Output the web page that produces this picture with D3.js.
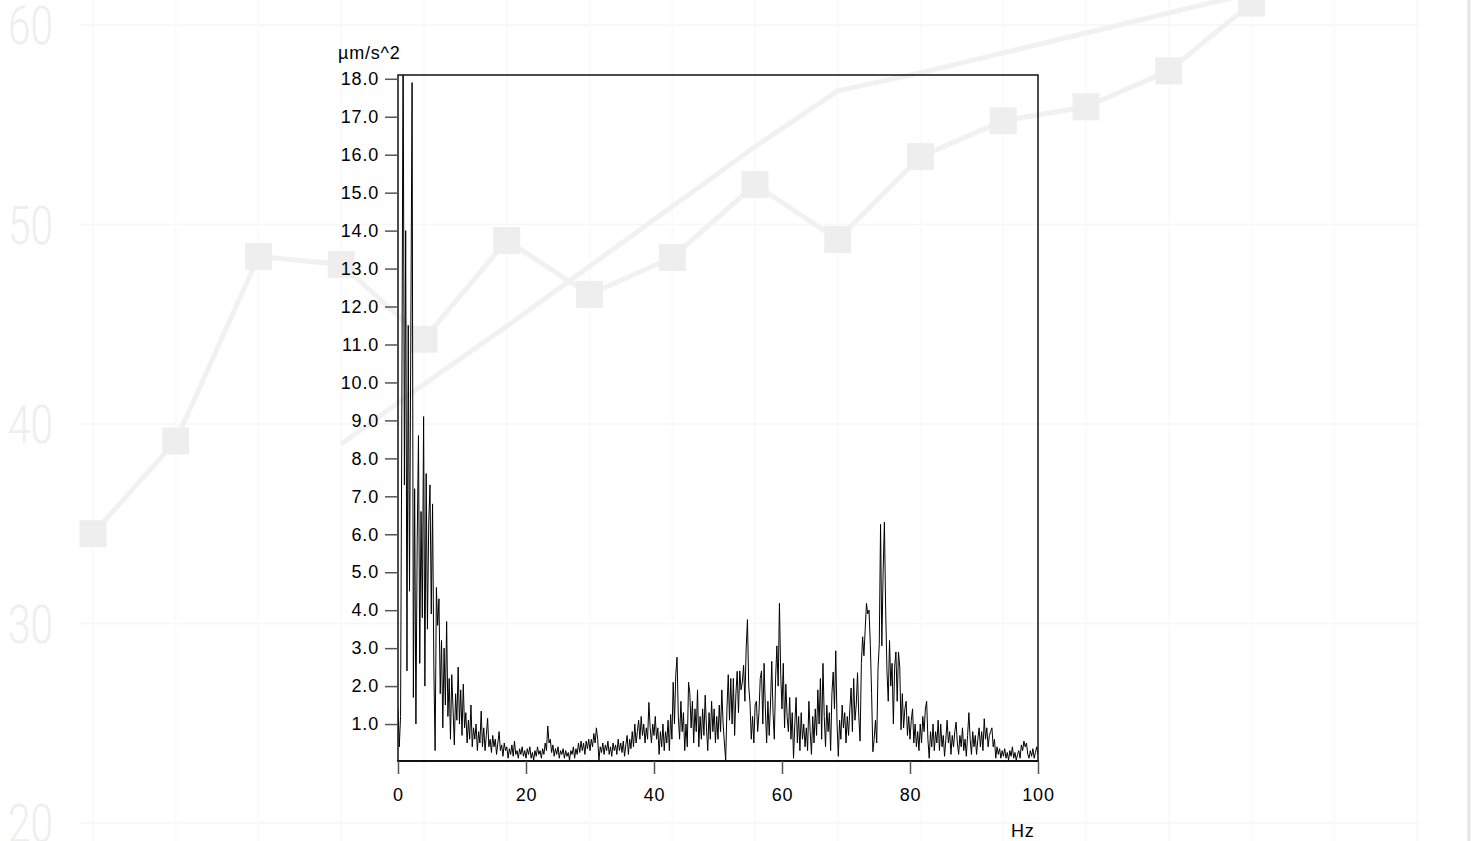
<!DOCTYPE html>
<html>
<head>
<meta charset="utf-8">
<script src="https://cdn.jsdelivr.net/npm/d3@7.9.0/dist/d3.min.js"></script>
<style>
  body { margin: 0; background: #fff; }
  svg { display: block; font-family: "Liberation Sans", Arial, sans-serif; }
</style>
</head>
<body>
<div id="chart"></div>
<script>
const width = 1475;
const height = 841;

// faded line chart sitting behind the spectrum
const bgMarkers = [34.5, 39.15, 48.4, 48.0, 44.25, 49.2, 46.5, 48.35, 52.0, 49.25, 53.4, 55.2, 55.9, 57.7, 61.1];
const bgTrend = [null, null, null, 39.0, 42.0, 44.9, 47.9, 50.9, 53.9, 56.7, 57.6, 58.6, 59.6, 60.6, 61.6];
const bgTicks = [20, 30, 40, 50, 60];

// spectrum: one value every 0.2 Hz, 0 .. 100 Hz
const freqStep = 0.2;
const amplitude = [
  1.4, 0.4, 1.2, 9.2, 19.5, 7.3, 14.0, 2.4, 11.5, 4.5, 11.2, 17.9, 1.7, 7.2, 1.0, 5.8, 8.6, 2.6, 6.6, 3.8, 9.1, 2.0, 7.6, 3.5, 6.3,
  7.3, 3.9, 6.8, 2.5, 0.3, 4.6, 3.6, 4.3, 1.8, 3.2, 0.9, 3.0, 1.5, 3.7, 1.2, 2.2, 0.6, 2.3, 1.4, 0.45, 1.8, 1.1, 2.5, 1.0, 1.9,
  0.7, 2.05, 0.9, 1.3, 0.5, 1.1, 0.6, 1.5, 0.4, 0.9, 0.6, 1.0, 0.3, 0.8, 0.5, 1.34, 0.4, 0.9, 0.3, 0.7, 1.15, 0.4, 0.6, 0.25, 0.7,
  0.4, 0.6, 0.2, 0.5, 0.8, 0.3, 0.45, 0.15, 0.5, 0.3, 0.4, 0.1, 0.35, 0.2, 0.45, 0.15, 0.55, 0.2, 0.3, 0.1, 0.35, 0.2, 0.4, 0.15, 0.3,
  0.1, 0.35, 0.2, 0.4, 0.1, 0.25, 0.05, 0.3, 0.15, 0.4, 0.2, 0.3, 0.1, 0.35, 0.2, 0.5, 0.3, 0.95, 0.5, 0.6, 0.25, 0.45, 0.15, 0.35, 0.2,
  0.4, 0.1, 0.3, 0.2, 0.35, 0.1, 0.3, 0.15, 0.25, 0.05, 0.3, 0.2, 0.4, 0.1, 0.35, 0.2, 0.5, 0.25, 0.55, 0.3, 0.5, 0.2, 0.55, 0.35, 0.6,
  0.3, 0.6, 0.4, 0.75, 0.5, 0.9, 0.6, 0.05, 0.4, 0.25, 0.5, 0.2, 0.45, 0.3, 0.55, 0.2, 0.4, 0.15, 0.5, 0.3, 0.45, 0.2, 0.6, 0.3, 0.5,
  0.25, 0.55, 0.15, 0.45, 0.7, 0.2, 0.6, 0.35, 0.8, 0.4, 1.0, 0.5, 0.8, 1.1, 0.6, 1.2, 0.7, 1.0, 0.5, 0.9, 0.6, 1.57, 0.9, 0.5, 1.0,
  0.7, 1.2, 0.6, 0.9, 0.2, 0.8, 0.4, 1.0, 0.3, 0.8, 0.5, 1.1, 0.3, 1.25, 0.6, 2.1, 1.0, 2.3, 2.76, 1.2, 0.6, 1.6, 0.8, 1.3, 0.3,
  1.0, 0.4, 2.1, 1.8, 0.9, 1.6, 0.5, 1.4, 0.8, 1.9, 0.4, 1.2, 0.6, 1.4, 0.7, 1.76, 0.9, 0.3, 1.3, 0.6, 1.6, 0.8, 1.4, 0.5, 1.2,
  0.6, 1.5, 0.8, 1.9, 1.0, 0.5, 0.05, 1.4, 2.3, 1.1, 2.2, 1.0, 2.2, 0.7, 1.8, 2.39, 1.3, 2.4, 1.9, 2.1, 2.55, 1.6, 3.0, 3.75, 2.0,
  1.55, 0.6, 1.2, 0.5, 1.5, 1.6, 0.8, 1.3, 2.2, 2.4, 1.0, 2.6, 1.4, 0.5, 1.6, 0.7, 1.5, 2.65, 1.3, 0.6, 2.2, 3.06, 2.0, 4.18, 2.3,
  1.4, 2.6, 0.9, 2.05, 1.2, 0.8, 1.7, 0.6, 1.3, 0.1, 1.0, 1.7, 0.5, 1.2, 0.3, 1.3, 0.6, 1.0, 0.4, 0.9, 0.3, 1.6, 0.8, 0.2, 1.2,
  0.5, 1.4, 0.7, 1.9, 1.0, 2.2, 0.6, 2.6, 1.2, 0.4, 1.5, 0.8, 1.3, 0.3, 1.8, 2.37, 1.4, 2.93, 1.0, 0.15, 1.1, 0.6, 1.5, 0.9, 1.3,
  0.5, 1.2, 0.7, 1.4, 1.95, 0.8, 2.2, 1.1, 1.5, 2.35, 1.2, 0.55, 2.6, 3.3, 2.8, 3.5, 4.18, 3.9, 4.0, 3.1, 1.8, 0.27, 0.6, 1.1, 0.5,
  2.45, 3.1, 6.26, 3.06, 5.0, 6.32, 4.0, 2.4, 1.6, 3.2, 2.0, 2.6, 1.0, 2.5, 2.9, 1.6, 2.9, 2.5, 0.85, 1.8, 0.9, 1.4, 1.6, 0.7, 1.2,
  0.6, 1.1, 1.4, 0.5, 1.0, 0.4, 0.8, 0.3, 1.0, 0.5, 1.2, 0.8, 1.4, 1.6, 0.6, 0.1, 0.8, 0.4, 1.0, 0.3, 0.8, 0.5, 1.1, 0.3, 1.0,
  0.4, 0.7, 0.15, 0.6, 1.1, 0.5, 0.8, 0.2, 0.7, 0.4, 0.8, 1.05, 0.5, 0.2, 0.7, 0.4, 0.9, 0.3, 0.6, 0.15, 0.7, 1.3, 0.6, 0.2, 0.8,
  0.4, 0.7, 0.2, 0.6, 0.9, 0.4, 0.8, 0.3, 1.14, 0.6, 0.9, 0.4, 0.7, 0.8, 0.9, 0.4, 0.6, 0.1, 0.4, 0.2, 0.35, 0.1, 0.3, 0.15, 0.35,
  0.1, 0.25, 0.05, 0.3, 0.15, 0.4, 0.1, 0.25, 0.05, 0.2, 0.3, 0.1, 0.45, 0.3, 0.55, 0.4, 0.5, 0.2, 0.1, 0.3, 0.15, 0.35, 0.1, 0.25, 0.4,
  0.2
];
const yTicks = [1, 2, 3, 4, 5, 6, 7, 8, 9, 10, 11, 12, 13, 14, 15, 16, 17, 18];
const xTicks = [0, 20, 40, 60, 80, 100];

const svg = d3.select('#chart')
    .append('svg')
    .attr('width', width)
    .attr('height', height);

/* background chart */
const xb = d3.scaleLinear().domain([0, 16]).range([93, 1417]);
const yb = d3.scaleLinear().domain([20, 60]).range([823, 25]);

const bg = svg.append('g');
bgTicks.forEach(t => {
    bg.append('line')
        .attr('x1', 80).attr('x2', 1420)
        .attr('y1', yb(t)).attr('y2', yb(t))
        .attr('stroke', '#f6f6f6')
        .attr('stroke-width', 1.5);
    bg.append('text')
        .attr('x', 8)
        .attr('y', yb(t))
        .attr('dy', '0.36em')
        .attr('textLength', 45)
        .attr('lengthAdjust', 'spacingAndGlyphs')
        .attr('fill', '#eeeeee')
        .style('font-family', 'Roboto, sans-serif')
        .style('font-weight', 300)
        .style('font-size', '54px')
        .text(t);
});
d3.range(17).forEach(i => {
    bg.append('line')
        .attr('x1', xb(i)).attr('x2', xb(i))
        .attr('y1', 0).attr('y2', 841)
        .attr('stroke', '#f9f9f9')
        .attr('stroke-width', 1.5);
});
bg.append('line')
    .attr('x1', 1469).attr('x2', 1469)
    .attr('y1', 0).attr('y2', height)
    .attr('stroke', '#e4e4e4')
    .attr('stroke-width', 3);

const bgLine = d3.line()
    .defined(d => d !== null)
    .x((d, i) => xb(i))
    .y(d => yb(d));
bg.append('path')
    .datum(bgTrend)
    .attr('fill', 'none')
    .attr('stroke', '#f1f1f1')
    .attr('stroke-width', 5)
    .attr('d', bgLine);
bg.append('path')
    .datum(bgMarkers)
    .attr('fill', 'none')
    .attr('stroke', '#f1f1f1')
    .attr('stroke-width', 5)
    .attr('d', bgLine);
bg.selectAll('rect.mark')
    .data(bgMarkers)
    .join('rect')
    .attr('class', 'mark')
    .attr('x', (d, i) => xb(i) - 13.5)
    .attr('y', d => yb(d) - 13.5)
    .attr('width', 27)
    .attr('height', 27)
    .attr('fill', '#eeeeee');

/* spectrum plot */
const plot = { left: 398, right: 1038, top: 75, bottom: 761 };
const x = d3.scaleLinear().domain([0, 100]).range([plot.left, plot.right]);
const y = d3.scaleLinear().domain([0, 18.1]).range([762, plot.top]);

svg.append('clipPath')
    .attr('id', 'plot-clip')
    .append('rect')
    .attr('x', plot.left)
    .attr('y', plot.top)
    .attr('width', plot.right - plot.left)
    .attr('height', plot.bottom - plot.top);

const spectrumLine = d3.line()
    .x((d, i) => x(i * freqStep))
    .y(d => y(d));
svg.append('path')
    .datum(amplitude)
    .attr('clip-path', 'url(#plot-clip)')
    .attr('fill', 'none')
    .attr('stroke', '#000')
    .attr('stroke-width', 1)
    .attr('d', spectrumLine);

svg.append('rect')
    .attr('x', plot.left)
    .attr('y', plot.top)
    .attr('width', plot.right - plot.left)
    .attr('height', plot.bottom - plot.top)
    .attr('fill', 'none')
    .attr('stroke', '#111')
    .attr('stroke-width', 1.5);
svg.append('line')
    .attr('x1', plot.left - 1).attr('x2', plot.right + 1)
    .attr('y1', plot.bottom).attr('y2', plot.bottom)
    .attr('stroke', '#111')
    .attr('stroke-width', 2);

const yAxis = svg.append('g')
    .attr('transform', `translate(${plot.left},0)`)
    .call(d3.axisLeft(y).tickValues(yTicks).tickFormat(d3.format('.1f')).tickSize(13).tickPadding(6));
const xAxis = svg.append('g')
    .attr('transform', `translate(0,${plot.bottom})`)
    .call(d3.axisBottom(x).tickValues(xTicks).tickSize(13).tickPadding(14));

[yAxis, xAxis].forEach(g => {
    g.select('.domain').remove();
    g.selectAll('.tick line').attr('stroke', '#555').attr('stroke-width', 1.5);
    g.selectAll('.tick text')
        .attr('fill', '#000')
        .style('font-family', '"Liberation Sans", Arial, sans-serif')
        .style('font-size', '18px')
        .style('letter-spacing', '0.8px');
});

svg.append('text')
    .attr('x', 338)
    .attr('y', 59)
    .style('font-size', '18px')
    .style('letter-spacing', '0.8px')
    .text('µm/s^2');
svg.append('text')
    .attr('x', 1011)
    .attr('y', 837)
    .style('font-size', '18px')
    .style('letter-spacing', '0.8px')
    .text('Hz');
</script>
</body>
</html>
